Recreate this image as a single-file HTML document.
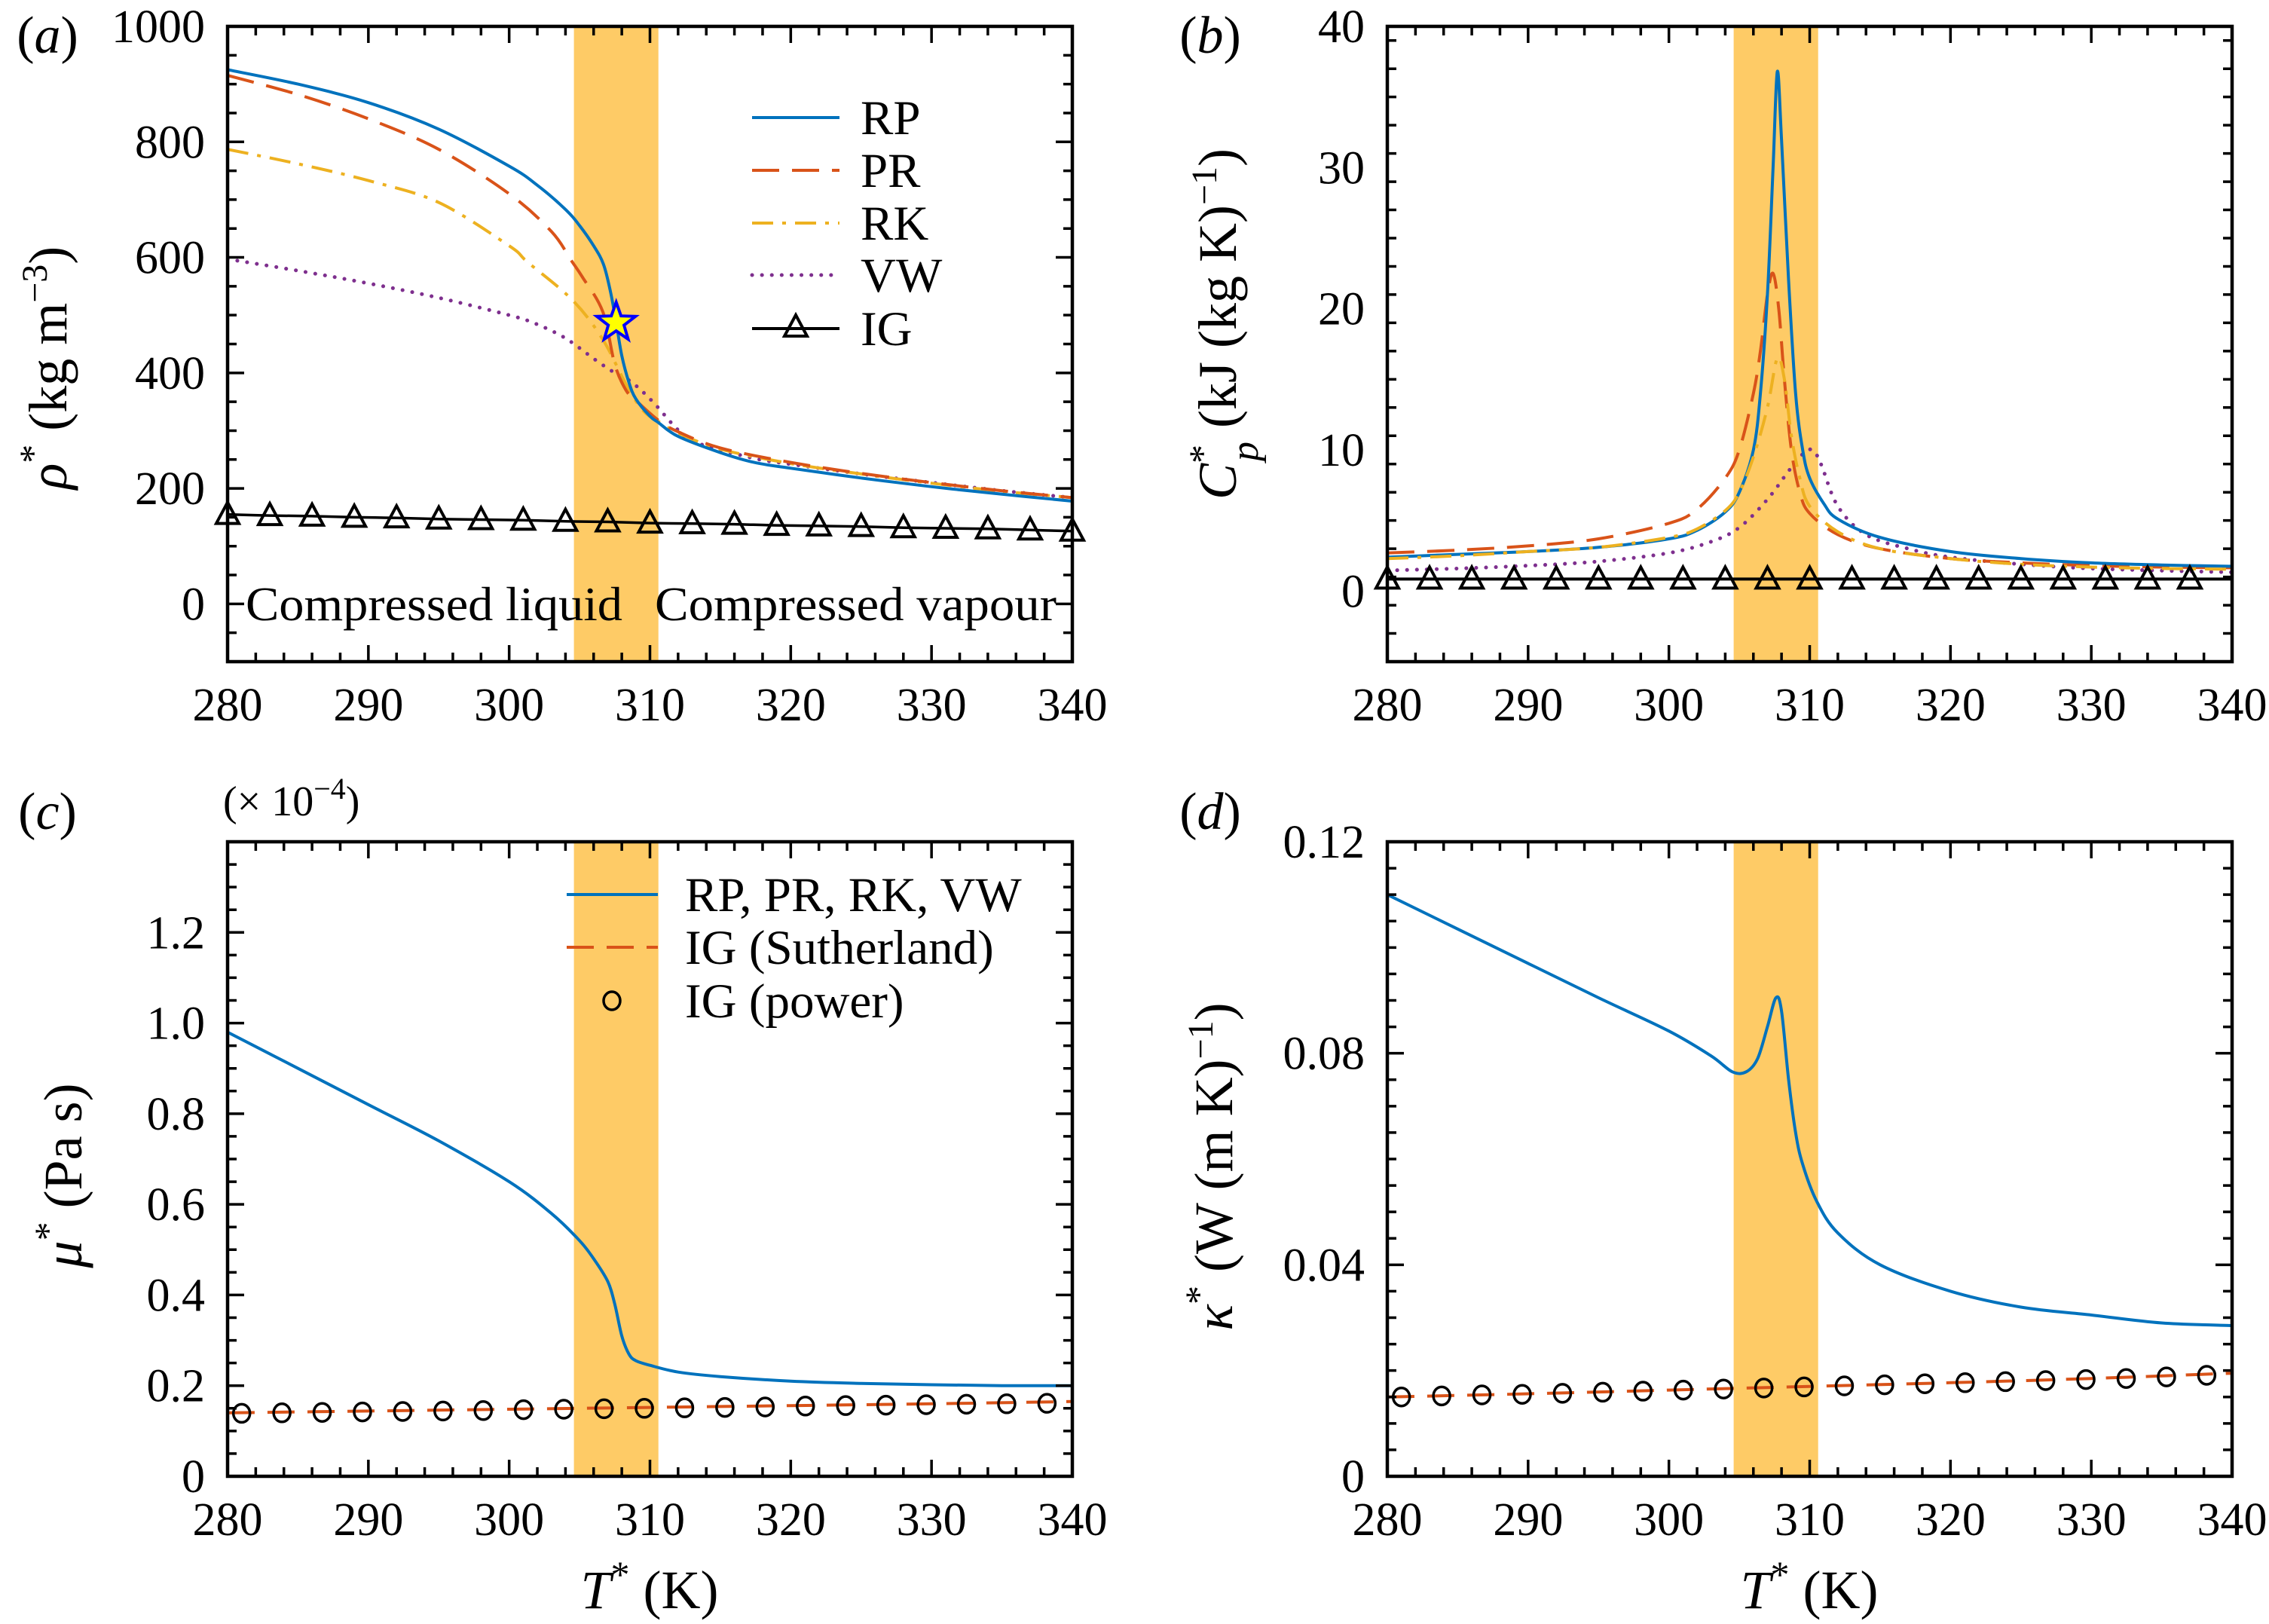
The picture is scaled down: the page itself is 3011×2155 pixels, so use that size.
<!DOCTYPE html>
<html><head><meta charset="utf-8"><style>
html,body{margin:0;padding:0;background:#fff}
svg{display:block}
text{font-family:"Liberation Serif","DejaVu Serif",serif;fill:#000}
</style></head><body>
<svg id="fig" width="3011" height="2155" viewBox="0 0 3011 2155" xmlns="http://www.w3.org/2000/svg"></svg>
<script>
// ---------- DATA ----------
// Panel (a) density
const aRP_T=[280,285,290,295,300,302,304,305,306,306.7,307.2,307.6,308,308.5,309,310,310.6,312,315,317.4,320,325,330,335,340];
const aRP_V=[925,900,868,822,758,725,683,655,620,588,540,487,430,384,355,325,314,290,262,245,235,218,203,190,178];
const aPR_T=[280,285,290,295,300,303,304.4,305.2,306.65,307.5,308.3,309.1,310.6,312,315,320,325,330,335,340];
const aPR_V=[915,882,840,787,710,645,595,566,506,415,370,350,318,298,270,245,226,210,196,184];
const aRK_T=[280,285,290,295,300,301.3,304.5,306.65,308.3,309.5,310.6,312,315,320,325,330,335,340];
const aRK_V=[787,762,733,695,620,592,526,458,380,335,316,296,268,243,225,209,195,184];
const aVW_T=[280,285,290,295,300,301.9,304,306.1,307.5,308.7,310.2,312,313.3,317.4,320,325,330,335,340];
const aVW_V=[597,577,555,530,500,485,460,423,400,384,350,301,279,252,242,225,210,196,184];
const aIG_T=[280,283,286,289,292,295,298,301,304,307,310,313,316,319,322,325,328,331,334,337,340];
const aIG_V=[155,153,152,150,149,147,146,145,143,142,140,139,138,136,135,134,132,131,130,128,126];
const starT=[307.6], starV=[487];
// Panel (b) Cp
const bRP_T=[280,285,290,295,300,302,304,305,306,306.5,307,307.4,307.7,308,308.5,309,309.5,310,311,312,315,320,325,330,335,340];
const bRP_V=[2.4,2.6,2.8,3.1,3.7,4.3,5.6,7.0,10,14,21,30,36.8,32,22,14,10,8,6.2,5.1,3.8,2.8,2.3,2.0,1.85,1.75];
const bPR_T=[280,285,290,295,300,302,304,305,306,306.5,307,307.4,307.8,308.2,308.7,309.3,310,312,315,320,325,330,335,340];
const bPR_V=[2.7,2.9,3.2,3.7,4.8,5.8,8.0,10,14,17,21,22.5,20,15,10,7,5.5,4,3,2.3,2.0,1.8,1.7,1.65];
const bRK_T=[280,285,290,295,300,302,304,305,306,307,307.7,308.2,308.7,309.3,310,312,315,320,325,330,335,340];
const bRK_V=[2.3,2.5,2.8,3.1,3.8,4.4,5.7,7,9.5,13,16.5,15,11,8,6,4.2,3,2.3,1.9,1.7,1.6,1.55];
const bVW_T=[280,285,290,295,300,303,305,307,308.5,309.5,310.2,310.8,312,314,317,320,325,330,335,340];
const bVW_V=[1.46,1.6,1.8,2.1,2.7,3.5,4.5,6.5,8.5,9.7,10,9,6,4,3,2.4,1.9,1.6,1.45,1.33];
const bIG_T=[280,283,286,289,292,295,298,301,304,307,310,313,316,319,322,325,328,331,334,337];
const bIG_V=[0.85,0.85,0.85,0.85,0.85,0.85,0.85,0.85,0.85,0.85,0.85,0.85,0.85,0.85,0.85,0.85,0.85,0.85,0.85,0.85];
// Panel (c) viscosity (x1e-4)
const cRP_T=[280,285,290,295,300,303,305,306,307,307.5,308,308.5,309,310,312,315,320,325,330,335,340];
const cRP_V=[0.98,0.90,0.82,0.74,0.65,0.58,0.52,0.48,0.43,0.38,0.31,0.27,0.255,0.245,0.23,0.22,0.21,0.205,0.202,0.2,0.2];
const cSU_T=[280,290,300,310,320,330,340];
const cSU_V=[0.140,0.144,0.148,0.152,0.156,0.160,0.165];
const cPW_T=[281,283.86,286.72,289.58,292.44,295.3,298.16,301.02,303.88,306.74,309.6,312.46,315.32,318.18,321.04,323.9,326.76,329.62,332.48,335.34,338.2];
const cPW_V=[0.139,0.140,0.141,0.142,0.143,0.144,0.145,0.147,0.148,0.149,0.150,0.151,0.152,0.153,0.155,0.156,0.157,0.158,0.159,0.160,0.161];
// Panel (d) conductivity
const dRP_T=[280,285,290,295,300,303,304.5,305.5,306.3,307,307.6,308,308.5,309,309.5,310.5,312,315,320,325,330,335,340];
const dRP_V=[0.110,0.1035,0.097,0.0905,0.0842,0.0795,0.0765,0.0765,0.079,0.085,0.0905,0.088,0.075,0.065,0.059,0.052,0.046,0.040,0.035,0.032,0.0305,0.029,0.0285];
const dSU_T=[280,290,300,310,320,330,340];
const dSU_V=[0.0150,0.0156,0.0163,0.0170,0.0177,0.0185,0.0195];
const dPW_T=cPW_T;
const dPW_V=[0.0150,0.0152,0.0154,0.0155,0.0157,0.0159,0.0161,0.0163,0.0165,0.0167,0.0169,0.0171,0.0173,0.0175,0.0177,0.0179,0.0181,0.0183,0.0185,0.0188,0.0191];
const xTicks=[280,290,300,310,320,330,340];
const bandT=[304.6,310.6];

// ---------- HELPERS ----------
const NS='http://www.w3.org/2000/svg';
const svg=document.getElementById('fig');
function mk(tag,attrs,parent){const e=document.createElementNS(NS,tag);for(const k in attrs)e.setAttribute(k,attrs[k]);(parent||svg).appendChild(e);return e;}
const C={blue:'#0072BD',red:'#D95319',yel:'#EDB120',pur:'#7E2F8E'};
function smooth(pts){
  let d='M'+pts[0][0].toFixed(1)+','+pts[0][1].toFixed(1);
  for(let i=0;i<pts.length-1;i++){
    const p0=pts[i-1]||pts[i],p1=pts[i],p2=pts[i+1],p3=pts[i+2]||p2;
    const c1=[p1[0]+(p2[0]-p0[0])/6,p1[1]+(p2[1]-p0[1])/6];
    const c2=[p2[0]-(p3[0]-p1[0])/6,p2[1]-(p3[1]-p1[1])/6];
    d+='C'+c1[0].toFixed(1)+','+c1[1].toFixed(1)+' '+c2[0].toFixed(1)+','+c2[1].toFixed(1)+' '+p2[0].toFixed(1)+','+p2[1].toFixed(1);
  }
  return d;
}
function panel(o){
  const g=mk('g',{});
  
  
  const X=t=>o.x0+(t-280)/60*(o.x1-o.x0);
  const Y=v=>o.y1-(v-o.ymin)/(o.ymax-o.ymin)*(o.y1-o.y0);
  const clip='clip-'+o.name;
  const cp=mk('clipPath',{id:clip},g);mk('rect',{x:o.x0,y:o.y0,width:o.x1-o.x0,height:o.y1-o.y0},cp);
  const band=mk('rect',{x:X(bandT[0]),y:o.y0,width:X(bandT[1])-X(bandT[0]),height:o.y1-o.y0,fill:'#FECB66'},g);
  
  
  const plot=mk('g',{'clip-path':'url(#'+clip+')'},g);
  return {g,plot,X,Y,o};
}
function series(P,T,V,color,dash,name,w){
  const pts=T.map((t,i)=>[P.X(t),P.Y(V[i])]);
  const p=mk('path',{d:smooth(pts),fill:'none',stroke:color,'stroke-width':w||4,'stroke-dasharray':dash||'none','stroke-linecap':dash===DOT?'round':'butt'},P.plot);
  
  
}
function tri(g,x,y,name){
  const t=mk('path',{d:`M${x},${y-16}L${x+15},${y+12}L${x-15},${y+12}Z`,fill:'none',stroke:'#000','stroke-width':4,'stroke-linejoin':'miter'},g);
  
  
}
function circ(g,x,y,name){
  const c=mk('ellipse',{cx:x,cy:y,rx:11,ry:12,fill:'none',stroke:'#000','stroke-width':3.5},g);
  
  
}
function axes(P,yMajor,yMinor,yFmt){
  const o=P.o,g=P.g;
  const fr=mk('rect',{x:o.x0,y:o.y0,width:o.x1-o.x0,height:o.y1-o.y0,fill:'none',stroke:'#000','stroke-width':4.5},g);
  
  
  let d='';
  for(let t=280;t<=340;t+=2){const x=P.X(t),L=(t%10===0)?22:12;d+=`M${x},${o.y1}v${-L}M${x},${o.y0}v${L}`;}
  for(let v=o.ymin;v<=o.ymax+1e-9;v+=yMinor){
    const maj=Math.abs(v/yMajor-Math.round(v/yMajor))<1e-6;
    const y=P.Y(v),L=maj?22:12;d+=`M${o.x0},${y}h${L}M${o.x1},${y}h${-L}`;}
  const tk=mk('path',{d,stroke:'#000','stroke-width':3.5,fill:'none'},g);
  
  
  xTicks.forEach(t=>{const e=mk('text',{x:P.X(t),y:o.y1+78,'font-size':62,'text-anchor':'middle'},g);e.textContent=t;
    
    });
  yFmt.forEach(([v,s])=>{const e=mk('text',{x:o.x0-30,y:P.Y(v)+21,'font-size':62,'text-anchor':'end'},g);e.textContent=s;
    
    });
}
function label(html,x,y,rot,size,name){
  const t=mk('text',{x,y,'font-size':size||72,'text-anchor':'middle',transform:rot?`rotate(-90 ${x} ${y})`:''});
  t.innerHTML=html;
  
  
  return t;
}
function legLine(g,x1,x2,y,color,dash,name){
  const l=mk('line',{x1,x2,y1:y,y2:y,stroke:color,'stroke-width':dash===DOT?5:4,'stroke-dasharray':dash||'none','stroke-linecap':dash===DOT?'round':'butt'},g);
  
  
}
function legText(g,x,y,s,name){
  const t=mk('text',{x,y:y+22,'font-size':65},g);t.textContent=s;
  
  
}
const DASH='36 17', DASHDOT='28 12 5 12', DOT='0.1 13';

// ---------- PANEL A ----------
const A=panel({name:'panel-a-density',x0:302,x1:1423,y0:35,y1:878,ymin:-100,ymax:1000});
series(A,aVW_T,aVW_V,C.pur,DOT,'vw-line',5);
series(A,aRK_T,aRK_V,C.yel,DASHDOT,'rk-line');
series(A,aPR_T,aPR_V,C.red,DASH,'pr-line');
series(A,aRP_T,aRP_V,C.blue,null,'rp-line');
series(A,aIG_T,aIG_V,'#000',null,'ig-line',3.5);
aIG_T.forEach((t,i)=>tri(A.g,A.X(t),A.Y(aIG_V[i]),'ig-marker'));
{const x=A.X(starT[0]),y=A.Y(starV[0]);let d='';for(let k=0;k<10;k++){const r=k%2?11:27,a=-Math.PI/2+k*Math.PI/5;d+=(k?'L':'M')+(x+r*Math.cos(a)).toFixed(1)+','+(y+r*Math.sin(a)).toFixed(1);}
 const s=mk('path',{d:d+'Z',fill:'#FFFF00',stroke:'#0000FF','stroke-width':4},A.g);
 
 }
axes(A,200,50,[[0,'0'],[200,'200'],[400,'400'],[600,'600'],[800,'800'],[1000,'1000']]);
{const t1=mk('text',{x:326,y:823,'font-size':64,textLength:500,lengthAdjust:'spacingAndGlyphs'},A.g);t1.textContent='Compressed liquid';
 
 
 const t2=mk('text',{x:869,y:823,'font-size':64,textLength:533,lengthAdjust:'spacingAndGlyphs'},A.g);t2.textContent='Compressed vapour';
 
 }
const legA=[[156,C.blue,null,'RP'],[226,C.red,DASH,'PR'],[296,C.yel,DASHDOT,'RK'],[365,C.pur,DOT,'VW'],[436,'#000',null,'IG']];
legA.forEach(([y,c,d,s])=>{legLine(A.g,998,1114,y,c,d,'legend-line-'+s.toLowerCase());legText(A.g,1142,y,s,'legend-label-'+s.toLowerCase());});
tri(A.g,1056,434,'legend-ig-marker');
label('(<tspan font-style="italic">a</tspan>)',63,70,false,70,'panel-label-a');
label('<tspan font-style="italic">ρ</tspan><tspan baseline-shift="super" font-size="50">*</tspan> (kg m<tspan baseline-shift="super" font-size="48">−3</tspan>)',88,488,true,72,'y-axis-title-a');

// ---------- PANEL B ----------
const B=panel({name:'panel-b-cp',x0:1841,x1:2962,y0:35,y1:878,ymin:-5,ymax:40});
series(B,bVW_T,bVW_V,C.pur,DOT,'vw-line',5);
series(B,bPR_T,bPR_V,C.red,DASH,'pr-line');
series(B,bRP_T,bRP_V,C.blue,null,'rp-line');
series(B,bRK_T,bRK_V,C.yel,DASHDOT,'rk-line');
series(B,[280,340],[bIG_V[0],bIG_V[0]],'#000',null,'ig-line',4);
bIG_T.forEach((t,i)=>tri(B.g,B.X(t),B.Y(bIG_V[i]),'ig-marker'));
axes(B,10,2,[[0,'0'],[10,'10'],[20,'20'],[30,'30'],[40,'40']]);
label('(<tspan font-style="italic">b</tspan>)',1606,70,false,70,'panel-label-b');
label('<tspan font-style="italic">C</tspan><tspan baseline-shift="super" font-size="50">*</tspan><tspan font-style="italic" baseline-shift="sub" font-size="52" dx="-22">p</tspan> (kJ (kg K)<tspan baseline-shift="super" font-size="48">−1</tspan>)',1640,430,true,72,'y-axis-title-b');

// ---------- PANEL C ----------
const Cp=panel({name:'panel-c-viscosity',x0:302,x1:1423,y0:1117,y1:1959,ymin:0,ymax:1.4});
series(Cp,cSU_T,cSU_V,C.red,DASH,'ig-sutherland-line');
series(Cp,cRP_T,cRP_V,C.blue,null,'rp-pr-rk-vw-line');
cPW_T.forEach((t,i)=>circ(Cp.g,Cp.X(t),Cp.Y(cPW_V[i]),'ig-power-marker'));
axes(Cp,0.2,0.05,[[0,'0'],[0.2,'0.2'],[0.4,'0.4'],[0.6,'0.6'],[0.8,'0.8'],[1.0,'1.0'],[1.2,'1.2']]);
legLine(Cp.g,752,873,1187,C.blue,null,'legend-line-rp');
legLine(Cp.g,752,873,1257,C.red,DASH,'legend-line-sutherland');
circ(Cp.g,812,1328,'legend-power-marker');
legText(Cp.g,909,1187,'RP, PR, RK, VW','legend-label-rp');
legText(Cp.g,909,1257,'IG (Sutherland)','legend-label-sutherland');
legText(Cp.g,909,1328,'IG (power)','legend-label-power');
label('(<tspan font-style="italic">c</tspan>)',63,1100,false,70,'panel-label-c');
{const t=mk('text',{x:296,y:1082,'font-size':56});t.innerHTML='(× 10<tspan baseline-shift="super" font-size="40">−4</tspan>)';
 
 }
label('<tspan font-style="italic">μ</tspan><tspan baseline-shift="super" font-size="50">*</tspan> (Pa s)',108,1560,true,72,'y-axis-title-c');
label('<tspan font-style="italic">T</tspan><tspan baseline-shift="super" font-size="50">*</tspan> (K)',862,2134,false,72,'x-axis-title-c');

// ---------- PANEL D ----------
const D=panel({name:'panel-d-conductivity',x0:1841,x1:2962,y0:1117,y1:1959,ymin:0,ymax:0.12});
series(D,dSU_T,dSU_V,C.red,DASH,'ig-sutherland-line');
series(D,dRP_T,dRP_V,C.blue,null,'rp-line');
dPW_T.forEach((t,i)=>circ(D.g,D.X(t),D.Y(dPW_V[i]),'ig-power-marker'));
axes(D,0.04,0.005,[[0,'0'],[0.04,'0.04'],[0.08,'0.08'],[0.12,'0.12']]);
label('(<tspan font-style="italic">d</tspan>)',1606,1100,false,70,'panel-label-d');
label('<tspan font-style="italic">κ</tspan><tspan baseline-shift="super" font-size="50">*</tspan> (W (m K)<tspan baseline-shift="super" font-size="48">−1</tspan>)',1635,1548,true,72,'y-axis-title-d');
label('<tspan font-style="italic">T</tspan><tspan baseline-shift="super" font-size="50">*</tspan> (K)',2401,2134,false,72,'x-axis-title-d');
</script>
</body></html>
